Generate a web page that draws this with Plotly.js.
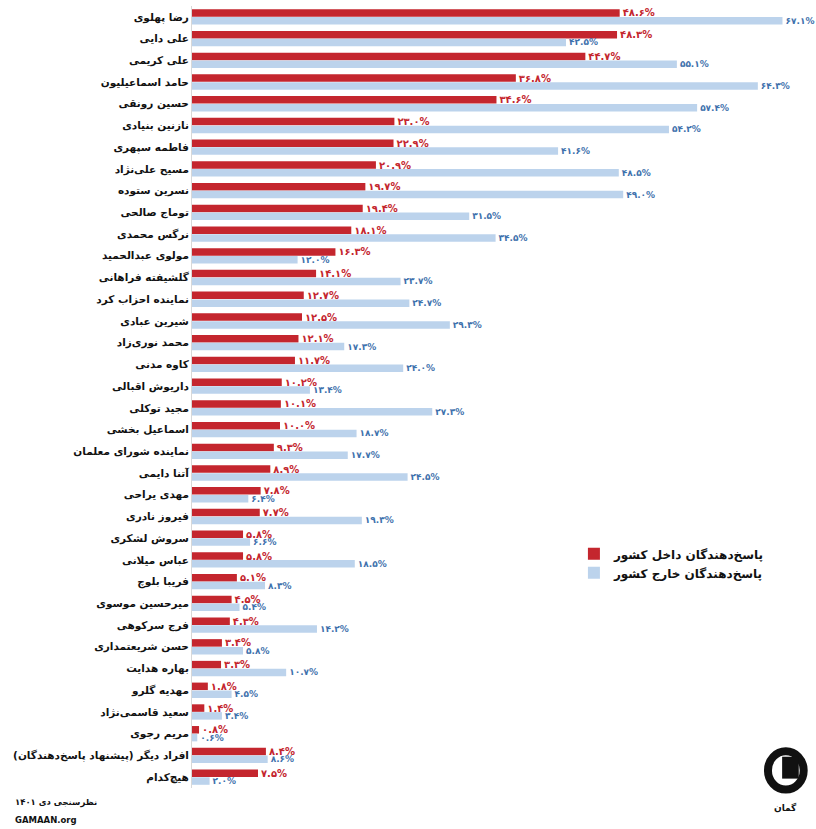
<!DOCTYPE html>
<html>
<head>
<meta charset="utf-8">
<script src="https://cdn.plot.ly/plotly-3.0.1.min.js"></script>
<style>html,body{margin:0;padding:0;background:#fff;}#chart{width:816px;height:829px;}</style>
</head>
<body>
<div id="chart"></div>
<script>
const categories = [
  "رضا پهلوی","علی دایی","علی کریمی","حامد اسماعیلیون","حسین رونقی","نازنین بنیادی",
  "فاطمه سپهری","مسیح علی‌نژاد","نسرین ستوده","توماج صالحی","نرگس محمدی","مولوی عبدالحمید",
  "گلشیفته فراهانی","نماینده احزاب کرد","شیرین عبادی","محمد نوری‌زاد","کاوه مدنی","داریوش اقبالی",
  "مجید توکلی","اسماعیل بخشی","نماینده شورای معلمان","آتنا دایمی","مهدی یراحی","فیروز نادری",
  "سروش لشکری","عباس میلانی","فریبا بلوچ","میرحسین موسوی","فرج سرکوهی","حسن شریعتمداری",
  "بهاره هدایت","مهدیه گلرو","سعید قاسمی‌نژاد","مریم رجوی","افراد دیگر (پیشنهاد پاسخ‌دهندگان)","هیچ‌کدام"
];
const insideValues = [
  48.6,48.3,44.7,36.8,34.6,23.0,
  22.9,20.9,19.7,19.4,18.1,16.3,
  14.1,12.7,12.5,12.1,11.7,10.2,
  10.1,10.0,9.3,8.9,7.8,7.7,
  5.8,5.8,5.1,4.5,4.3,3.4,
  3.3,1.8,1.4,0.8,8.4,7.5
];
const outsideValues = [
  67.1,42.5,55.1,64.3,57.4,54.2,
  41.6,48.5,49.0,31.5,34.5,12.0,
  23.7,24.7,29.3,17.3,24.0,13.4,
  27.3,18.7,17.7,24.5,6.4,19.3,
  6.6,18.5,8.3,5.4,14.2,5.8,
  10.7,4.5,3.4,0.6,8.6,2.0
];
const seriesNames = ["پاسخ‌دهندگان داخل کشور","پاسخ‌دهندگان خارج کشور"];

function fa(v){
  const d = "۰۱۲۳۴۵۶۷۸۹";
  return v.toFixed(1).replace(/[0-9]/g, c => d[+c]) + "%";
}
const catLabels = categories.map(c => "<b>" + c + "</b>");

const traces = [
  {
    type: "bar", orientation: "h", name: "<b>" + seriesNames[0] + "</b>",
    y: catLabels, x: insideValues,
    marker: {color: "#c4262e"},
    text: insideValues.map(v => "<b>" + fa(v) + "</b>"),
    textposition: "outside", cliponaxis: false, constraintext: "none",
    textfont: {color: "#c4262e", size: 10, family: "DejaVu Sans"},
    hoverinfo: "skip"
  },
  {
    type: "bar", orientation: "h", name: "<b>" + seriesNames[1] + "</b>",
    y: catLabels, x: outsideValues,
    marker: {color: "#bcd3ec"},
    text: outsideValues.map(v => "<b>" + fa(v) + "</b>"),
    textposition: "outside", cliponaxis: false, constraintext: "none",
    textfont: {color: "#3f72ad", size: 9, family: "DejaVu Sans"},
    hoverinfo: "skip"
  }
];

const layout = {
  width: 816, height: 829,
  margin: {l: 192, r: 8, t: 6, b: 41},
  paper_bgcolor: "#fff", plot_bgcolor: "#fff",
  barmode: "group", bargap: 0.28, bargroupgap: 0.04,
  font: {family: "DejaVu Sans", color: "#111"},
  showlegend: true,
  legend: {
    x: 0.62, y: 0.318, xanchor: "left", yanchor: "top",
    font: {size: 12, color: "#111", family: "DejaVu Sans"},
    bgcolor: "rgba(0,0,0,0)", itemwidth: 30, tracegroupgap: 2
  },
  xaxis: {range: [0, 70], visible: false, fixedrange: true},
  yaxis: {
    autorange: "reversed", type: "category",
    showline: true, linecolor: "#d8d8d8", linewidth: 1,
    showgrid: false, ticks: "", ticklen: 0,
    tickfont: {size: 10.5, color: "#111", family: "DejaVu Sans"},
    automargin: false
  },
  shapes: [
    {type: "circle", xref: "paper", yref: "paper",
     x0: 0.935, x1: 0.993, y0: -0.002, y1: 0.047,
     line: {color: "#111", width: 8}},
    {type: "rect", xref: "paper", yref: "paper",
     x0: 0.958, x1: 0.985, y0: 0.012, y1: 0.040,
     fillcolor: "#111", line: {width: 0}}
  ],
  annotations: [
    {xref: "paper", yref: "paper", x: -0.29, y: -0.019, xanchor: "left", yanchor: "middle",
     text: "<b>نظرسنجی دی ۱۴۰۱</b>", showarrow: false, font: {size: 8.5, color: "#111"}},
    {xref: "paper", yref: "paper", x: -0.29, y: -0.041, xanchor: "left", yanchor: "middle",
     text: "<b>GAMAAN.org</b>", showarrow: false, font: {size: 8.5, color: "#111"}},
    {xref: "paper", yref: "paper", x: 0.964, y: -0.025, xanchor: "center", yanchor: "middle",
     text: "<b>گمان</b>", showarrow: false, font: {size: 9, color: "#111"}}
  ]
};

Plotly.newPlot("chart", traces, layout, {staticPlot: true, displayModeBar: false});
</script>
</body>
</html>
